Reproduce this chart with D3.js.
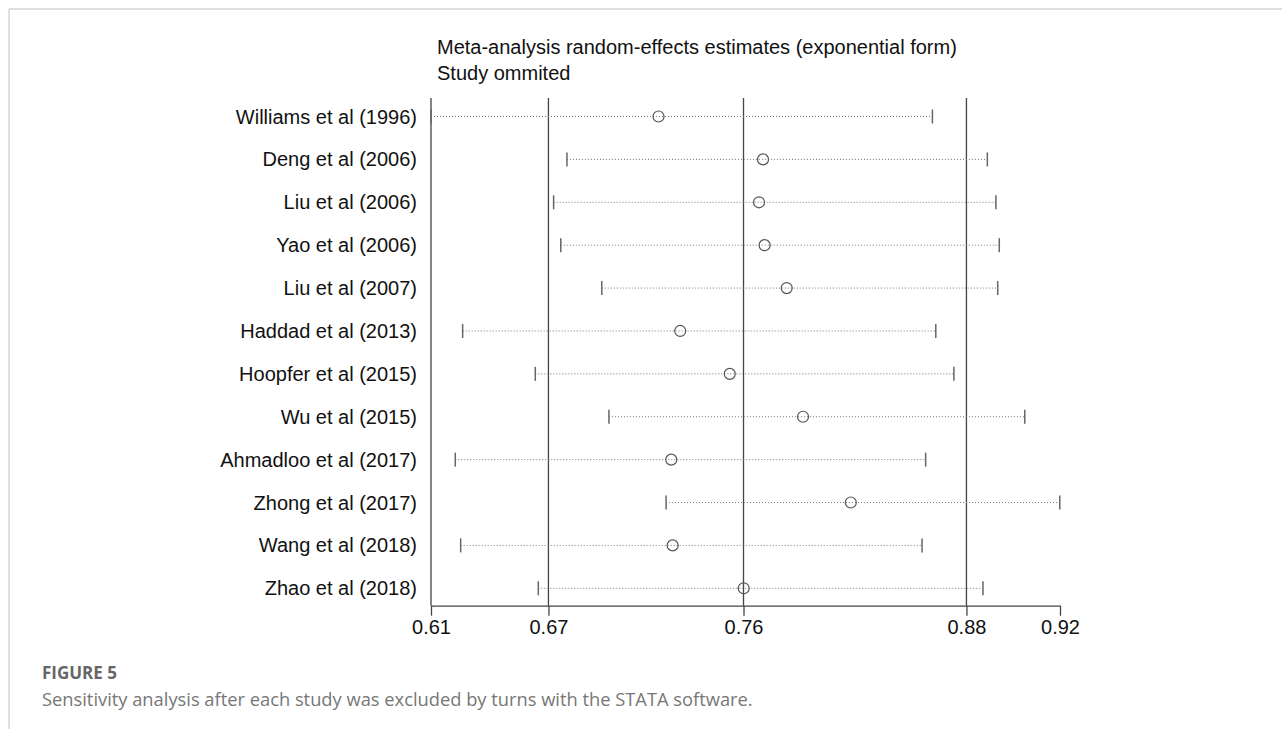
<!DOCTYPE html>
<html>
<head>
<meta charset="utf-8">
<script src="https://cdn.jsdelivr.net/npm/d3@7"></script>
<style>
  html, body { margin: 0; padding: 0; background: #fff; }
  svg { display: block; }
</style>
</head>
<body>
<svg id="chart" width="1282" height="729"></svg>
<script>
// ---- data ----
const studies = [
  "Williams et al (1996)", "Deng et al (2006)", "Liu et al (2006)", "Yao et al (2006)",
  "Liu et al (2007)", "Haddad et al (2013)", "Hoopfer et al (2015)", "Wu et al (2015)",
  "Ahmadloo et al (2017)", "Zhong et al (2017)", "Wang et al (2018)", "Zhao et al (2018)"
];
const lowerCI  = [0.607, 0.6753, 0.6686, 0.6722, 0.6928, 0.6229, 0.6594, 0.6964, 0.6192, 0.7251, 0.6219, 0.6609];
const estimate = [0.7213, 0.7738, 0.7718, 0.7746, 0.7857, 0.7322, 0.7571, 0.7939, 0.7277, 0.8179, 0.7284, 0.7641];
const upperCI  = [0.8589, 0.8865, 0.8908, 0.8925, 0.8917, 0.8606, 0.8697, 0.9053, 0.8555, 0.9229, 0.8537, 0.8843];
const tickValues = [0.607, 0.666, 0.764, 0.876, 0.923];
const tickLabels = ["0.61", "0.67", "0.76", "0.88", "0.92"];
const titleLines = ["Meta-analysis random-effects estimates (exponential form)", "Study ommited"];
const figureLabel = "FIGURE 5";
const captionText = "Sensitivity analysis after each study was excluded by turns with the STATA software.";

const rows = studies.map((s, i) => ({ study: s, lo: lowerCI[i], est: estimate[i], hi: upperCI[i] }));

const svg = d3.select("#chart");
const FONT = "'Liberation Sans', Arial, sans-serif";

// page frame
svg.append("line").attr("x1", 9).attr("x2", 1282).attr("y1", 9).attr("y2", 9)
  .attr("stroke", "#d4d4d4").attr("stroke-width", 1.5);
svg.append("line").attr("x1", 9).attr("x2", 9).attr("y1", 9).attr("y2", 729)
  .attr("stroke", "#d4d4d4").attr("stroke-width", 1.5);

// scales
const x = d3.scaleLinear().domain([tickValues[0], tickValues[tickValues.length - 1]]).range([431, 1060]);
const y = d3.scalePoint().domain(studies).range([116.5, 588.3]);
const plotTop = 98, baseY = 605.7;

// title
svg.append("g").selectAll("text").data(titleLines).join("text")
  .attr("x", 437).attr("y", (d, i) => 54 + i * 26)
  .attr("font-family", FONT).attr("font-size", 20).attr("fill", "#111")
  .text(d => d);

// reference vertical lines at ticks (except the last)
svg.append("g").selectAll("line").data(tickValues.slice(0, -1)).join("line")
  .attr("x1", d => x(d)).attr("x2", d => x(d))
  .attr("y1", plotTop).attr("y2", baseY)
  .attr("stroke", "#444").attr("stroke-width", 1.3);

// x axis
const axis = d3.axisBottom(x).tickValues(tickValues)
  .tickFormat((d, i) => tickLabels[i]).tickSize(10).tickSizeOuter(0).tickPadding(4);
const gAxis = svg.append("g").attr("transform", `translate(0,${baseY})`).call(axis);
gAxis.select(".domain").attr("stroke", "#444").attr("stroke-width", 1.3);
gAxis.selectAll(".tick line").attr("stroke", "#444").attr("stroke-width", 1.3);
gAxis.selectAll(".tick text").attr("font-family", FONT).attr("font-size", 20).attr("fill", "#111");

// study labels
svg.append("g").selectAll("text").data(rows).join("text")
  .attr("x", 417).attr("y", d => y(d.study) + 7)
  .attr("text-anchor", "end")
  .attr("font-family", FONT).attr("font-size", 20).attr("fill", "#111")
  .text(d => d.study);

// dotted CI lines
svg.append("g").selectAll("line").data(rows).join("line")
  .attr("x1", d => x(d.lo)).attr("x2", d => x(d.hi))
  .attr("y1", d => y(d.study)).attr("y2", d => y(d.study))
  .attr("stroke", "#777").attr("stroke-width", 1).attr("stroke-dasharray", "1,2");

// CI end caps
const caps = rows.flatMap(d => [{ s: d.study, v: d.lo }, { s: d.study, v: d.hi }]);
svg.append("g").selectAll("line").data(caps).join("line")
  .attr("x1", d => x(d.v)).attr("x2", d => x(d.v))
  .attr("y1", d => y(d.s) - 7).attr("y2", d => y(d.s) + 7)
  .attr("stroke", "#666").attr("stroke-width", 1.5);

// estimate circles
svg.append("g").selectAll("circle").data(rows).join("circle")
  .attr("cx", d => x(d.est)).attr("cy", d => y(d.study)).attr("r", 5.5)
  .attr("fill", "none").attr("stroke", "#555").attr("stroke-width", 1.2);

// caption
svg.append("text").attr("x", 42).attr("y", 679)
  .attr("font-family", "'Open Sans', 'Noto Sans', sans-serif").attr("font-weight", 700)
  .attr("font-size", 17).attr("fill", "#666").text(figureLabel);
const cap = svg.append("text").attr("x", 42).attr("y", 706)
  .attr("font-family", "'Open Sans', 'Noto Sans', sans-serif")
  .attr("font-size", 16).attr("fill", "#777").text(captionText);
const w = cap.node().getComputedTextLength();
cap.attr("font-size", 16 * 711 / w);
</script>
</body>
</html>
